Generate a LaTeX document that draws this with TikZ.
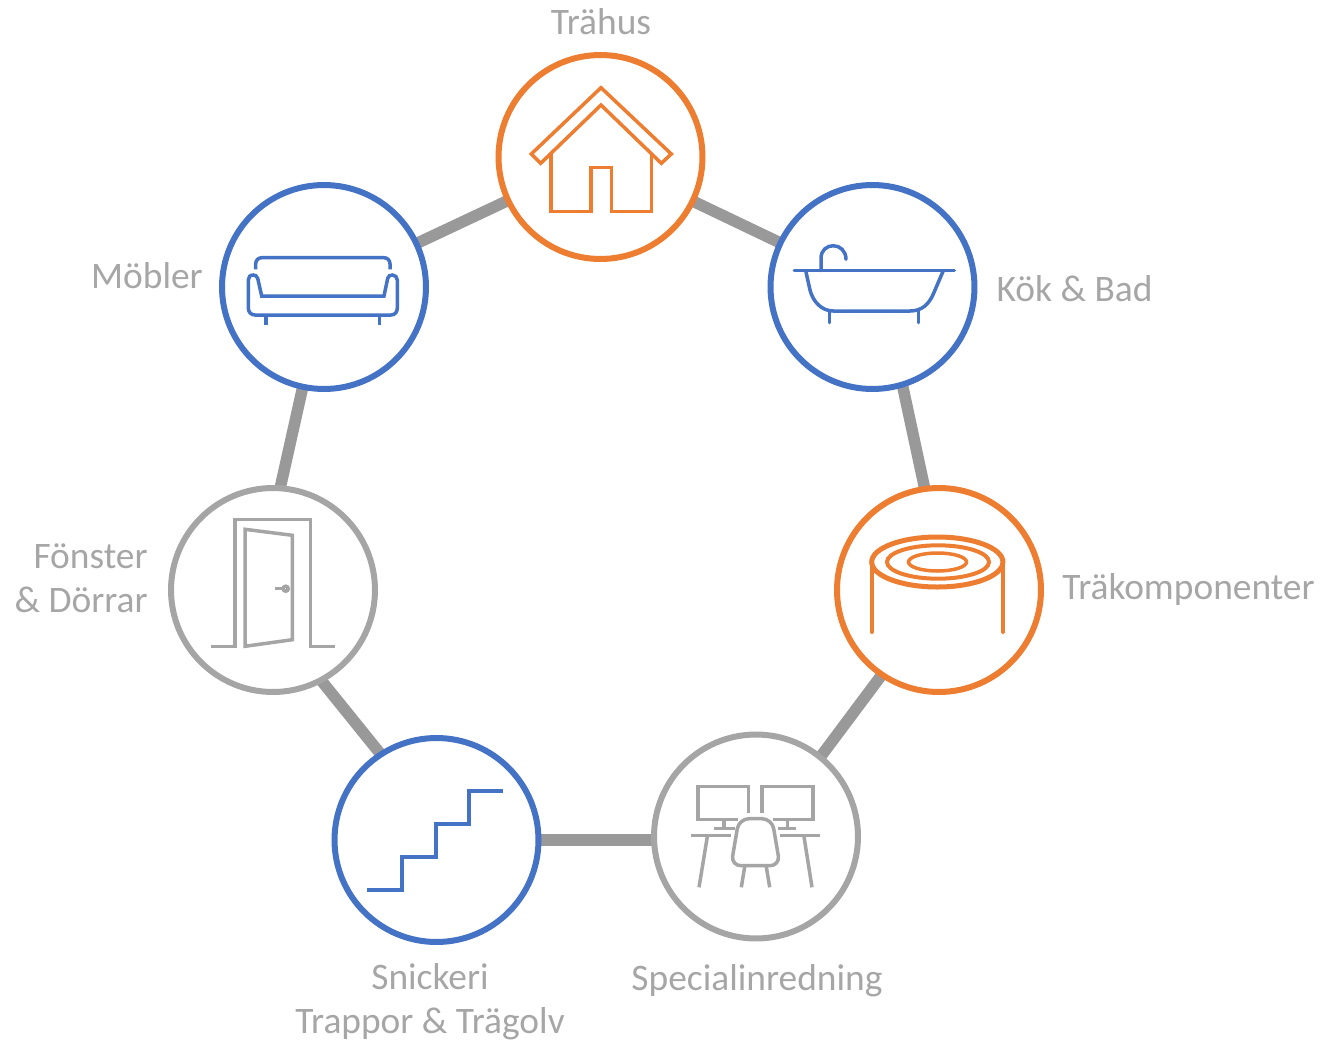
\documentclass[tikz,border=0pt]{standalone}
\usepackage{fontspec}
\setmainfont{Carlito}
\usetikzlibrary{backgrounds}
\definecolor{orangeb}{HTML}{ED7D31}
\definecolor{bleub}{HTML}{4472C4}
\definecolor{grisb}{HTML}{A5A5A5}
\definecolor{grist}{HTML}{A6A6A6}
\definecolor{grisl}{HTML}{999999}
\begin{document}
\begin{tikzpicture}[x=0.02cm,y=-0.02cm]
% définition des paramètres
\tikzstyle rond=[circle,fill=white,line width=0.12cm,minimum size=4.08cm,inner sep=0pt,outer sep=0pt]
\tikzstyle rondorange=[rond,draw=orangeb]
\tikzstyle rondbleu=[rond,draw=bleub]
\tikzstyle rondgris=[rond,draw=grisb]
\tikzstyle lien=[color=grisl,line width=0.23cm]
\tikzstyle icone=[line width=0.07cm]
\tikzstyle texte=[color=grist,font=\fontsize{21.3pt}{25.6pt}\selectfont,inner sep=0pt]
\useasboundingbox (0,0) rectangle (1322,1041);
% les ronds
\node [rondorange] (trahus) at (600.5,157) {};
\node [rondbleu] (kok) at (872.5,287) {};
\node [rondorange] (komp) at (939,590) {};
\node [rondgris] (spec) at (756,836.5) {};
\node [rondbleu] (snick) at (436.5,840) {};
\node [rondgris] (fonster) at (273,590) {};
\node [rondbleu] (mobler) at (324,287) {};
% les liens
\begin{pgfonlayer}{background}
\draw [lien] (trahus) -- (kok);
\draw [lien] (kok.287) -- (komp.98);
\draw [lien] (komp.236) -- (spec.51);
\draw [lien] (spec.west |- snick) -- (snick);
\draw [lien] (snick.123) -- (fonster.298);
\draw [lien] (fonster.86) -- (mobler.258);
\draw [lien] (mobler) -- (trahus);
\end{pgfonlayer}
% la maison
\draw [icone,orangeb] (601,87.7)--(671.3,154)--(661.3,163.3)--(601,105)--(540.7,163.3)--(531.3,154)--cycle;
\draw [icone,orangeb] (551,153)--(551,211.7)--(591,211.7)--(591,167.3)--(611.7,167.3)--(611.7,211.7)--(651.7,211.7)--(651.7,153);
% la baignoire
\begin{scope}[icone,bleub,line cap=round]
\draw (794.3,270.7)--(954.3,270.7);
\draw (821,270.7)--(821,258.3) .. controls (821,250) and (827,245.7) .. (833.3,245.7) .. controls (840,245.7) and (846,251) .. (846,259.3);
\draw (805.7,270.7)--(810,290) .. controls (813,302) and (822,311) .. (833.3,311)--(910,311) .. controls (922,311) and (929,304) .. (933.3,294)--(943.3,270.7);
\draw (829.3,311)--(829.3,322.7);
\draw (918.7,311)--(918.7,322.7);
\end{scope}
% le canapé
\begin{scope}[icone,bleub]
\draw [rounded corners=0.12cm] (255.7,269.3)--(255.7,257.7)--(390,257.7)--(390,269.3);
\draw (261.7,296)--(257.7,278.3) .. controls (257,276) and (255,275) .. (253.3,275) .. controls (250,275) and (248.3,277) .. (248.3,280)--(248.3,308) .. controls (248.3,312) and (251,315) .. (255,315)--(391,315) .. controls (395,315) and (397.3,312) .. (397.3,308)--(397.3,280) .. controls (397.3,277) and (395,275) .. (392.3,275) .. controls (390,275) and (388.5,276) .. (387.7,278.3)--(384,296)--cycle;
\draw (266,315)--(266,325);
\draw (379.7,315)--(379.7,325);
\end{scope}
% le rondin
\begin{scope}[orangeb,line cap=round]
\draw [line width=0.1cm] (937.3,562) ellipse (65.6 and 25);
\draw [line width=0.08cm] (938,562) ellipse (51 and 16.7);
\draw [line width=0.07cm] (937.5,562) ellipse (29 and 9);
\draw [line width=0.08cm] (871.7,562)--(871.7,632);
\draw [line width=0.08cm] (1003,562)--(1003,632);
\end{scope}
% la porte
\begin{scope}[icone,grisb]
\draw (210.7,646.3)--(235,646.3)--(235,519.7)--(310.7,519.7)--(310.7,646.3)--(335,646.3);
\draw (245,529.3)--(292.3,535.3)--(292.3,639.7)--(245,646.3)--cycle;
\draw (275,588.7)--(283.3,588.7);
\draw (285.7,588.7) circle (2.5);
\end{scope}
% le bureau
\begin{scope}[icone,grisb]
\draw (748.7,813.3)--(748.7,786.7)--(698,786.7)--(698,819.3)--(738,819.3);
\draw (762,813.3)--(762,786.7)--(813,786.7)--(813,819.3)--(773,819.3);
\draw (724,819.3)--(724,828.3);
\draw (714,828.3)--(735.3,828.3);
\draw (787.3,819.3)--(787.3,828.3);
\draw (778,828.3)--(796.3,828.3);
\draw (691.3,835.3)--(731.3,835.3);
\draw (779.7,835.3)--(819.7,835.3);
\draw (707.3,836.7)--(699,887.3);
\draw (804,836.7)--(812,887.3);
\draw [rounded corners=0.2cm] (739,818.7)--(772,818.7)--(780,865.7)--(731,865.7)--cycle;
\draw (744.7,866.7)--(741.3,887.3);
\draw (766.3,866.7)--(769.7,887.3);
\end{scope}
% l'escalier
\draw [icone,bleub] (367,890)--(402,890)--(402,857)--(436,857)--(436,824)--(469,824)--(469,791)--(503,791);
% les textes
\node [texte] (ttrahus) at (601,22) {Trähus};
\node [texte] (tkok) at (1074.5,289) {Kök \& Bad};
\node [texte] (tkomp) at (1188.5,590) {Träkomponenter};
\node [texte] (tspec) at (757,981) {Specialinredning};
\node [texte] (tsnick) at (430,977) {Snickeri};
\node [texte] (ttrapp) at (430,1024) {Trappor \& Trägolv};
\node [texte,anchor=east] (tfon) at (148,556) {Fönster};
\node [texte,anchor=east] (tdor) at (148,600) {\& Dörrar};
\node [texte] (tmob) at (147,276) {Möbler};
\end{tikzpicture}
\end{document}
